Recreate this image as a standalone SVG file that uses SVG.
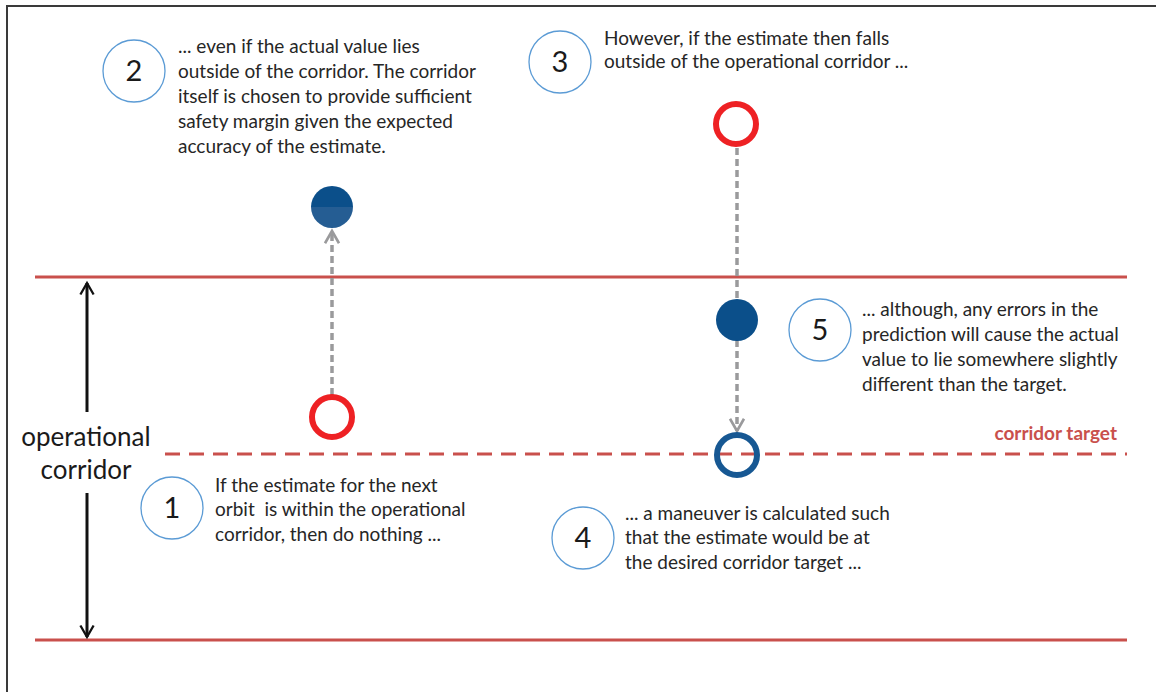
<svg xmlns="http://www.w3.org/2000/svg" width="1156" height="692" viewBox="0 0 1156 692">
<defs>
<style>
.t{font-family:Lato,"Open Sans","Liberation Sans",sans-serif;font-size:19px;fill:#262626;white-space:pre}
.num{font-family:Lato,"Open Sans","Liberation Sans",sans-serif;font-size:29px;fill:#1a1a1a;text-anchor:middle}
.badge{fill:#fff;stroke:#5b9bd5;stroke-width:1.3}
.red{stroke:#c9504c;stroke-width:3;fill:none}
.gray{stroke:#9a9a9c;stroke-width:3.5;stroke-dasharray:7 4;fill:none}
.ring-red{fill:none;stroke:#ee2124;stroke-width:6}
.ring-blue{fill:none;stroke:#175893;stroke-width:6}
</style>
<linearGradient id="dot" x1="0" y1="0" x2="0" y2="1">
<stop offset="0" stop-color="#0b4f8a"/><stop offset="0.5" stop-color="#0b4f8a"/><stop offset="0.5" stop-color="#255d93"/><stop offset="1" stop-color="#255d93"/>
</linearGradient>
<marker id="ag" viewBox="0 0 10 10" refX="8" refY="5" markerWidth="5" markerHeight="5" orient="auto" markerUnits="strokeWidth">
<path d="M1,1 L8,5 L1,9" fill="none" stroke="#9a9a9c" stroke-width="1.5"/>
</marker>
<marker id="ab" viewBox="0 0 10 10" refX="8" refY="5" markerWidth="5.5" markerHeight="5.5" orient="auto" markerUnits="strokeWidth">
<path d="M1,1 L8,5 L1,9" fill="none" stroke="#111" stroke-width="1.4"/>
</marker>
</defs>
<rect x="0" y="0" width="1156" height="692" fill="#fff"/>
<path d="M7,700 L7,6 L1160,6" fill="none" stroke="#3a3a3a" stroke-width="2"/>

<g id="corridor-lines">
<line class="red" x1="35" y1="277" x2="1127" y2="277"/>
<line class="red" x1="35" y1="640" x2="1127" y2="640"/>
<line class="red" x1="165" y1="454" x2="1127" y2="454" stroke-dasharray="15 9"/>
<text x="1117" y="440" text-anchor="end" style="font-family:Lato,'Open Sans','Liberation Sans',sans-serif;font-size:19px;font-weight:bold;fill:#c9504c">corridor target</text>
</g>

<g id="operational-corridor">
<text x="86" y="446" text-anchor="middle" style="font-family:Lato,'Open Sans','Liberation Sans',sans-serif;font-size:26px;fill:#1a1a1a">operational</text>
<text x="86" y="479" text-anchor="middle" style="font-family:Lato,'Open Sans','Liberation Sans',sans-serif;font-size:26px;fill:#1a1a1a">corridor</text>
</g>

<g id="connectors">
<line x1="87" y1="412" x2="87" y2="283" stroke="#111" stroke-width="3" marker-end="url(#ab)"/>
<line x1="87" y1="493" x2="87" y2="637" stroke="#111" stroke-width="3" marker-end="url(#ab)"/>
<line class="gray" x1="332" y1="395" x2="332" y2="231" marker-end="url(#ag)"/>
<line class="gray" x1="737" y1="148" x2="737" y2="300"/>
<line class="gray" x1="737" y1="340" x2="737" y2="431" marker-end="url(#ag)"/>
</g>

<g id="ring1"><circle class="ring-red" cx="332" cy="417" r="20"/></g>
<g id="dot2"><circle cx="332" cy="207" r="21" fill="url(#dot)"/></g>
<g id="ring3"><circle class="ring-red" cx="736" cy="124" r="20"/></g>
<g id="dot5"><circle cx="737" cy="320" r="21" fill="#0b4f8a"/></g>
<g id="ring4"><circle class="ring-blue" cx="737" cy="455" r="20"/></g>

<g id="step1">
<circle class="badge" cx="172" cy="508" r="31"/>
<text class="num" x="172" y="518">1</text>
<text class="t" x="215" y="492">If the estimate for the next</text>
<text class="t" x="215" y="516" xml:space="preserve">orbit  is within the operational</text>
<text class="t" x="215" y="541">corridor, then do nothing ...</text>
</g>

<g id="step2">
<circle class="badge" cx="134" cy="71" r="31"/>
<text class="num" x="134" y="81">2</text>
<text class="t" x="178" y="53">... even if the actual value lies</text>
<text class="t" x="178" y="78">outside of the corridor. The corridor</text>
<text class="t" x="178" y="103">itself is chosen to provide sufficient</text>
<text class="t" x="178" y="128">safety margin given the expected</text>
<text class="t" x="178" y="153">accuracy of the estimate.</text>
</g>

<g id="step3">
<circle class="badge" cx="560" cy="62" r="31"/>
<text class="num" x="560" y="72">3</text>
<text class="t" x="604" y="45">However, if the estimate then falls</text>
<text class="t" x="604" y="68">outside of the operational corridor ...</text>
</g>

<g id="step4">
<circle class="badge" cx="583" cy="538" r="31"/>
<text class="num" x="583" y="548">4</text>
<text class="t" x="625" y="520">... a maneuver is calculated such</text>
<text class="t" x="625" y="544">that the estimate would be at</text>
<text class="t" x="625" y="569">the desired corridor target ...</text>
</g>

<g id="step5">
<circle class="badge" cx="820" cy="330" r="31"/>
<text class="num" x="820" y="340">5</text>
<text class="t" x="862" y="316">... although, any errors in the</text>
<text class="t" x="862" y="341">prediction will cause the actual</text>
<text class="t" x="862" y="366">value to lie somewhere slightly</text>
<text class="t" x="862" y="391">different than the target.</text>
</g>
</svg>
